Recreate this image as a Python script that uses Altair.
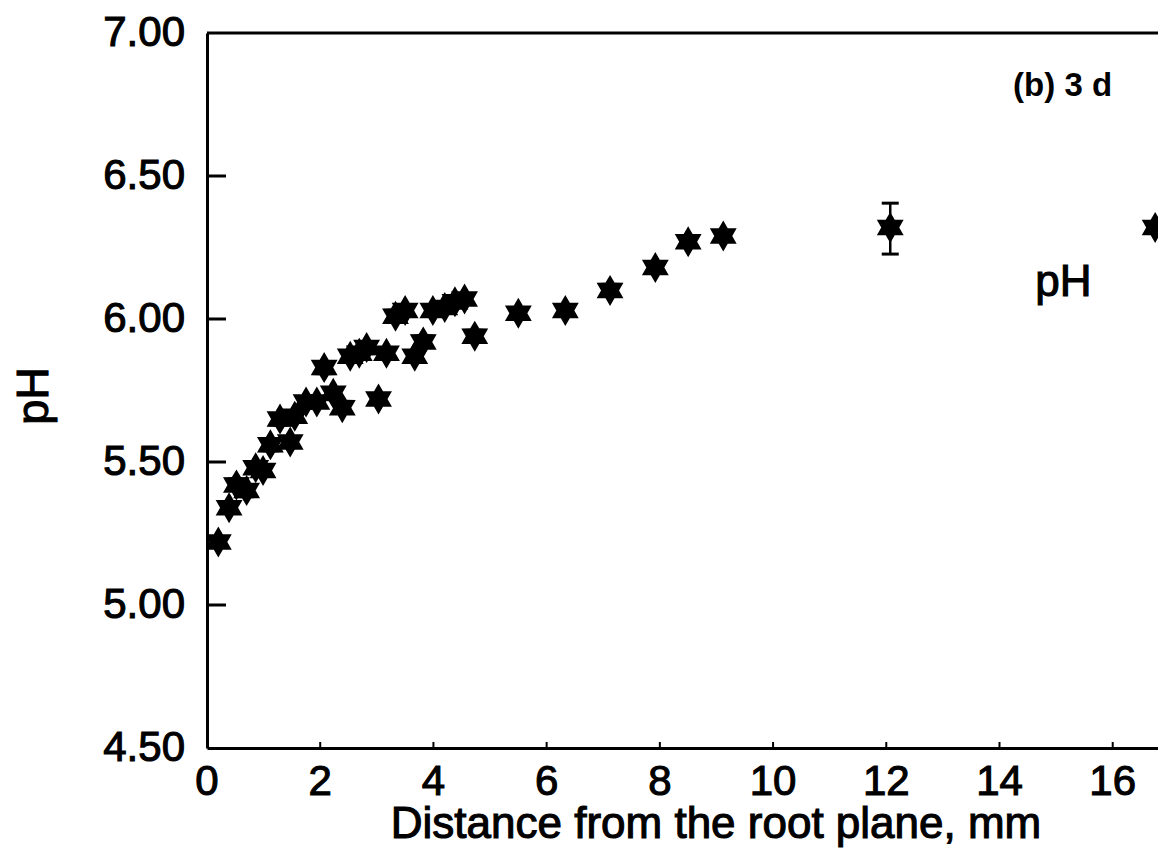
import math
import altair as alt
import pandas as pd

# ---- data ----
dist_mm = [0.20, 0.39, 0.52, 0.70, 0.86, 0.99, 1.12, 1.29, 1.47, 1.55, 1.75, 1.94,
           2.07, 2.23, 2.39, 2.53, 2.69, 2.82, 3.03, 3.17, 3.33, 3.50, 3.67, 3.82,
           3.99, 4.20, 4.38, 4.55, 4.73, 5.50, 6.33, 7.12, 7.92, 8.50, 9.12, 12.07, 16.75]
ph = [5.22, 5.34, 5.42, 5.40, 5.48, 5.47, 5.56, 5.65, 5.57, 5.66, 5.71, 5.71,
      5.83, 5.74, 5.69, 5.87, 5.88, 5.90, 5.72, 5.88, 6.01, 6.03, 5.87, 5.92,
      6.03, 6.04, 6.06, 6.07, 5.94, 6.02, 6.03, 6.10, 6.18, 6.27, 6.29, 6.32, 6.32]

err_x = [12.07]
err_lo = [6.227]
err_hi = [6.405]

x_tick_labels = [0, 2, 4, 6, 8, 10, 12, 14, 16]
y_tick_labels = [4.5, 5.0, 5.5, 6.0, 6.5, 7.0]
inner_y_ticks = [5.0, 5.5, 6.0, 6.5]
inner_x_ticks = [2, 4, 6, 8, 10, 12, 14, 16]
x_domain = [0, 16.8]
y_domain = [4.5, 7.0]

x_title = "Distance from the root plane, mm"
y_title = "pH"
panel_label = ["(b) 3 d"]
panel_x = [14.24]
panel_y = [6.78]
series_label = ["pH"]
series_x = [14.63]
series_y = [6.08]

# ---- style ----
FONT = "Liberation Sans"
W, H = 951, 715
TXT = dict(font=FONT, color="black", stroke="black", strokeWidth=1.1)

# six-pointed star path in unit coordinates
r_in = 0.58
pts = []
for k in range(12):
    ang = math.radians(-90 + 30 * k)
    rad = 1.0 if k % 2 == 0 else r_in
    pts.append((rad * math.cos(ang), rad * math.sin(ang)))
star_path = "M" + " L".join(f"{px:.4f},{py:.4f}" for px, py in pts) + " Z"

x_axis = alt.Axis(labels=False, ticks=False, tickSize=0, grid=False,
                  domainColor="black", domainWidth=3)
y_axis = alt.Axis(labels=False, ticks=False, tickSize=0, grid=False,
                  domainColor="black", domainWidth=3)

xenc = alt.X("x:Q", scale=alt.Scale(domain=x_domain, nice=False, zero=False), axis=x_axis, title=None)
yenc = alt.Y("y:Q", scale=alt.Scale(domain=y_domain, nice=False, zero=False), axis=y_axis, title=None)

pts_df = pd.DataFrame({"x": dist_mm, "y": ph})
points = alt.Chart(pts_df).mark_point(shape=star_path, filled=True, size=961, color="black",
                                      opacity=1, strokeWidth=0, clip=True).encode(x=xenc, y=yenc)

err_df = pd.DataFrame({"x": err_x, "y": err_lo, "y2": err_hi})
err_rule = alt.Chart(err_df).mark_rule(strokeWidth=2.5, color="black").encode(x=xenc, y=yenc, y2="y2:Q")
cap_df = pd.DataFrame({"x": err_x * 2, "y": err_lo + err_hi})
err_caps = alt.Chart(cap_df).mark_tick(orient="horizontal", size=17, thickness=3, color="black",
                                       opacity=1).encode(x=xenc, y=yenc)

top_df = pd.DataFrame({"y": [y_domain[1]]})
top_border = alt.Chart(top_df).mark_rule(strokeWidth=3, color="black").encode(y=yenc)

yt_df = pd.DataFrame({"y": inner_y_ticks})
y_ticks_in = alt.Chart(yt_df).mark_rule(strokeWidth=3, color="black").encode(
    y=yenc, x=alt.value(0), x2=alt.value(19))
xt_df = pd.DataFrame({"x": inner_x_ticks})
x_ticks_in = alt.Chart(xt_df).mark_rule(strokeWidth=2, color="black").encode(
    x=xenc, y=alt.value(H), y2=alt.value(H - 6))

# tick labels and titles as text marks (heavier, like the scanned original)
xl_df = pd.DataFrame({"x": x_tick_labels, "t": [str(v) for v in x_tick_labels]})
x_labels = alt.Chart(xl_df).mark_text(fontSize=42, align="center", baseline="alphabetic", **TXT).encode(
    x=xenc, y=alt.value(H + 47), text="t:N")
yl_df = pd.DataFrame({"y": y_tick_labels, "t": [f"{v:.2f}" for v in y_tick_labels]})
y_labels = alt.Chart(yl_df).mark_text(fontSize=42, align="right", baseline="middle", **TXT).encode(
    y=yenc, x=alt.value(-22), text="t:N")

xt_title_df = pd.DataFrame({"t": [x_title]})
x_title_mark = alt.Chart(xt_title_df).mark_text(fontSize=44, align="center", baseline="alphabetic",
                                                **TXT).encode(
    x=alt.value(509), y=alt.value(H + 90), text="t:N")
yt_title_df = pd.DataFrame({"t": [y_title]})
y_title_mark = alt.Chart(yt_title_df).mark_text(fontSize=45, align="center", baseline="alphabetic",
                                                angle=270, **TXT).encode(
    x=alt.value(-159), y=alt.value(363), text="t:N")

panel_df = pd.DataFrame({"x": panel_x, "y": panel_y, "t": panel_label})
panel_text = alt.Chart(panel_df).mark_text(font=FONT, fontSize=33, fontWeight="bold", color="black",
                                           align="left", baseline="alphabetic").encode(
    x=xenc, y=yenc, text="t:N")
series_df = pd.DataFrame({"x": series_x, "y": series_y, "t": series_label})
series_text = alt.Chart(series_df).mark_text(fontSize=44, align="left", baseline="alphabetic",
                                             **TXT).encode(
    x=xenc, y=yenc, text="t:N")

chart = alt.layer(top_border, y_ticks_in, x_ticks_in, err_rule, err_caps, points,
                  x_labels, y_labels, x_title_mark, y_title_mark,
                  panel_text, series_text).properties(
    width=W, height=H,
    autosize=alt.AutoSizeParams(type="none"),
    padding={"left": 207, "top": 33, "right": 0, "bottom": 113},
    background="white",
).configure_view(stroke=None)

chart.save("out.html", embed_options={"renderer": "svg", "actions": False})
